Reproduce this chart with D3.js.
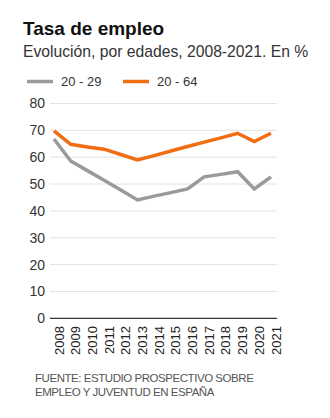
<!DOCTYPE html>
<html>
<head>
<meta charset="utf-8">
<script src="https://cdn.jsdelivr.net/npm/d3@7"></script>
<style>
  body { margin: 0; background: #fff; }
  svg { display: block; font-family: "Liberation Sans", Arial, sans-serif; }
</style>
</head>
<body>
<div id="chart"></div>
<script>
const width = 330;
const height = 418;

// Data
const years = [2008, 2009, 2010, 2011, 2012, 2013, 2014, 2015, 2016, 2017, 2018, 2019, 2020, 2021];
const young = [66.8, 58.6, 55.0, 51.4, 47.8, 44.1, 45.5, 46.8, 48.2, 52.7, 53.6, 54.6, 48.2, 52.7];
const total = [69.8, 64.8, 63.8, 63.0, 61.0, 59.0, 60.6, 62.3, 64.0, 65.6, 67.2, 68.9, 65.8, 68.9];
const yTicks = [0, 10, 20, 30, 40, 50, 60, 70, 80];

const seriesInfo = [
  { id: "20 - 29", values: young, color: "#9a9a9a" },
  { id: "20 - 64", values: total, color: "#f26c12" }
];

const svg = d3.select("#chart")
  .append("svg")
    .attr("width", width)
    .attr("height", height)
    .attr("viewBox", [0, 0, width, height]);

// Scales
const xScale = d3.scalePoint()
  .domain(years)
  .range([54, 271]);
const yScale = d3.scaleLinear()
  .domain([0, 80])
  .range([318.3, 103.5]);

// Title
svg.append("text")
  .attr("x", 23)
  .attr("y", 35)
  .attr("font-size", 19)
  .attr("font-weight", "bold")
  .attr("fill", "#111")
  .text("Tasa de empleo");
svg.append("text")
  .attr("x", 23)
  .attr("y", 57)
  .attr("font-size", 15.7)
  .attr("fill", "#333")
  .text("Evolución, por edades, 2008-2021. En %");

// Legend
const legend = svg.append("g");
const legendX = [27, 123];
seriesInfo.forEach((s, i) => {
  legend.append("line")
    .attr("x1", legendX[i]).attr("x2", legendX[i] + 26)
    .attr("y1", 81.5).attr("y2", 81.5)
    .attr("stroke", s.color)
    .attr("stroke-width", 3.5);
  legend.append("text")
    .attr("x", legendX[i] + 34)
    .attr("y", 86)
    .attr("font-size", 13)
    .attr("fill", "#333")
    .text(s.id);
});

// Gridlines
svg.append("g")
  .selectAll("line")
  .data(yTicks.filter(d => d > 0))
  .join("line")
    .attr("x1", 50).attr("x2", 277)
    .attr("y1", d => yScale(d)).attr("y2", d => yScale(d))
    .attr("stroke", "#e3e3e3")
    .attr("stroke-width", 1);

// Y axis
const leftAxis = d3.axisLeft(yScale)
  .tickValues(yTicks)
  .tickSize(0)
  .tickPadding(5);
svg.append("g")
  .attr("transform", "translate(50, 0)")
  .call(leftAxis)
  .call(g => g.select(".domain").remove())
  .selectAll("text")
    .attr("font-size", 14)
    .attr("font-family", "Liberation Sans, Arial, sans-serif")
    .attr("fill", "#333");

// Baseline
svg.append("line")
  .attr("x1", 50).attr("x2", 277)
  .attr("y1", yScale(0)).attr("y2", yScale(0))
  .attr("stroke", "#333")
  .attr("stroke-width", 1.2);

// X labels
svg.append("g")
  .selectAll("text")
  .data(years)
  .join("text")
    .attr("transform", d => `translate(${xScale(d) + 9.5}, 326) rotate(-90)`)
    .attr("text-anchor", "end")
    .attr("font-size", 13)
    .attr("fill", "#222")
    .text(d => d);

// Lines
const lineGenerator = d3.line()
  .x((d, i) => xScale(years[i]))
  .y(d => yScale(d));
svg.append("g")
  .selectAll("path")
  .data(seriesInfo)
  .join("path")
    .attr("d", d => lineGenerator(d.values))
    .attr("fill", "none")
    .attr("stroke", d => d.color)
    .attr("stroke-width", 3.5)
    .attr("stroke-linejoin", "miter");

// Source
const source = svg.append("text")
  .attr("font-size", 11.5)
  .attr("fill", "#555")
  .attr("letter-spacing", -0.45);
source.append("tspan")
  .attr("x", 35).attr("y", 382)
  .text("FUENTE: ESTUDIO PROSPECTIVO SOBRE");
source.append("tspan")
  .attr("x", 35).attr("y", 396)
  .text("EMPLEO Y JUVENTUD EN ESPAÑA");
</script>
</body>
</html>
